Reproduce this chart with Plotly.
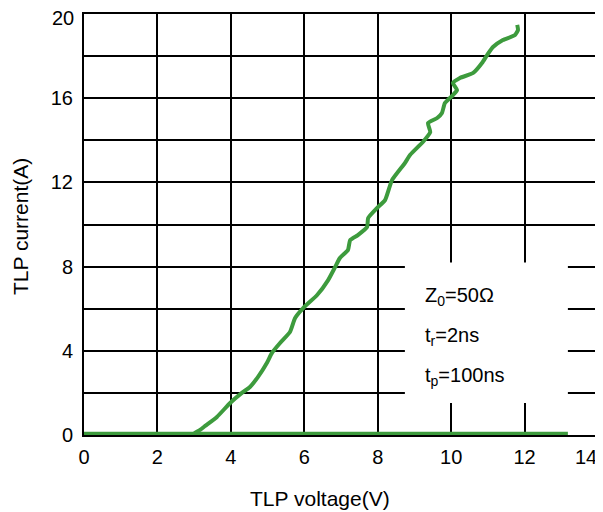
import plotly.graph_objects as go

# TLP I-V curve (rising branch)
tlp_voltage = [3.00, 3.02, 3.16, 3.30, 3.62, 3.98, 4.30, 4.52, 4.74, 4.98, 5.12, 5.34, 5.61,
               5.75, 5.97, 6.35, 6.65, 6.84, 6.97, 7.19, 7.25, 7.46, 7.71, 7.74, 7.98,
               8.20, 8.39, 8.74, 8.88, 9.23, 9.43, 9.37, 9.62, 9.75, 9.83, 10.05, 10.16,
               10.05, 10.24, 10.60, 10.84, 10.98, 11.14, 11.41, 11.74, 11.82, 11.80]
tlp_current = [0.05, 0.10, 0.24, 0.43, 0.86, 1.52, 2.00, 2.28, 2.76, 3.42, 3.90, 4.37, 4.89,
               5.56, 6.03, 6.65, 7.36, 7.98, 8.41, 8.79, 9.26, 9.50, 9.88, 10.31, 10.78,
               11.16, 12.11, 12.92, 13.30, 13.92, 14.39, 14.82, 15.06, 15.30, 15.77, 16.15, 16.39,
               16.72, 16.96, 17.20, 17.67, 18.05, 18.43, 18.76, 19.00, 19.24, 19.48]

# baseline (leakage) branch near zero current
base_voltage = [0.0, 3.0, 6.0, 13.18]
base_current = [0.06, 0.06, 0.08, 0.06]

x_ticks = [0, 2, 4, 6, 8, 10, 12, 14]
y_ticks = [0, 4, 8, 12, 16, 20]

# legend box contents
box_x = [8.74, 13.18]
box_y = [1.52, 8.2]
notes = ["Z<sub>0</sub>=50Ω", "t<sub>r</sub>=2ns", "t<sub>p</sub>=100ns"]
notes_y = [6.60, 4.70, 2.80]
notes_x = 9.23

green = "#3d9b3d"
font = dict(family="Liberation Sans, Arial, sans-serif", size=20, color="black")
title_font = dict(family="Liberation Sans, Arial, sans-serif", size=21, color="black")

fig = go.Figure()
fig.add_trace(go.Scatter(x=base_voltage, y=base_current, mode="lines",
                         line=dict(color=green, width=4), showlegend=False, hoverinfo="skip"))
fig.add_trace(go.Scatter(x=tlp_voltage, y=tlp_current, mode="lines",
                         line=dict(color=green, width=4, shape="spline", smoothing=0.5),
                         showlegend=False))

fig.add_shape(type="rect", xref="x", yref="y", x0=box_x[0], x1=box_x[1], y0=box_y[0], y1=box_y[1],
              fillcolor="white", line=dict(width=0), layer="between")

for t, yy in zip(notes, notes_y):
    fig.add_annotation(x=notes_x, y=yy, xref="x", yref="y", text=t, showarrow=False,
                       xanchor="left", yanchor="middle", font=font)

# last x tick label sits just inside the right edge of the figure
fig.add_annotation(x=1, y=0, xref="paper", yref="paper", text=str(x_ticks[-1]),
                   showarrow=False, xanchor="right", yanchor="top", xshift=1, yshift=-9,
                   font=font)
# top y tick label sits slightly below the top edge
fig.add_annotation(x=0, y=1, xref="paper", yref="paper", text=str(y_ticks[-1]),
                   showarrow=False, xanchor="right", yanchor="middle", xshift=-8, yshift=-4,
                   font=font)

# axis titles
fig.add_annotation(x=0.459, y=0, xref="paper", yref="paper", yshift=-63,
                   text="TLP voltage(V)", showarrow=False, xanchor="center", yanchor="middle",
                   font=title_font)
fig.add_annotation(x=0, y=0.494, xref="paper", yref="paper", xshift=-64,
                   text="TLP current(A)", showarrow=False, textangle=-90,
                   xanchor="center", yanchor="middle", font=title_font)

# page body has an 8px default margin, so the figure is sized to fit inside the window
fig.update_layout(
    width=595, height=504,
    margin=dict(l=76, r=5, t=6, b=77, autoexpand=False),
    paper_bgcolor="white", plot_bgcolor="white",
    font=font,
    showlegend=False,
)
fig.update_xaxes(
    range=[0, 14], tickvals=x_ticks,
    ticktext=[str(v) for v in x_ticks[:-1]] + [""],
    showgrid=True, gridcolor="black", gridwidth=2,
    showline=True, linecolor="black", linewidth=2, mirror=True,
    ticks="", ticklabelstandoff=3, zeroline=False, layer="below traces",
    automargin=False, tickfont=font, ticklabeloverflow="allow",
)
fig.update_yaxes(
    range=[0, 20], tickvals=y_ticks,
    ticktext=[str(v) for v in y_ticks[:-1]] + [""],
    showgrid=True, gridcolor="black", gridwidth=2,
    minor=dict(dtick=2, showgrid=True, gridcolor="black", gridwidth=2),
    showline=True, linecolor="black", linewidth=2, mirror=True,
    ticks="", ticklabelstandoff=5, zeroline=False, layer="below traces",
    automargin=False, tickfont=font, ticklabeloverflow="allow",
)

fig.write_html("out.html")
